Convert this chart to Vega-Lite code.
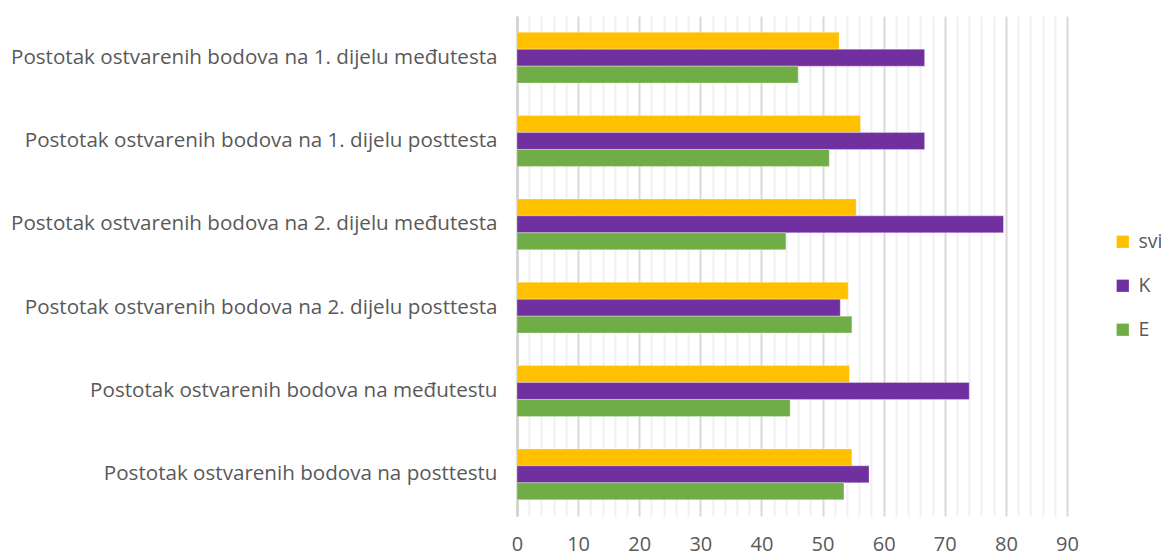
{
  "$schema": "https://vega.github.io/schema/vega-lite/v6.json",
  "width": 550,
  "height": 500,
  "autosize": {"type": "none"},
  "padding": {"left": 517, "top": 16, "right": 94, "bottom": 39},
  "background": "white",
  "data": {
    "values": [
      {"kat": "Postotak ostvarenih bodova na 1. dijelu međutesta", "grupa": "svi", "v": 52.7},
      {"kat": "Postotak ostvarenih bodova na 1. dijelu međutesta", "grupa": "K", "v": 66.7},
      {"kat": "Postotak ostvarenih bodova na 1. dijelu međutesta", "grupa": "E", "v": 46.0},
      {"kat": "Postotak ostvarenih bodova na 1. dijelu posttesta", "grupa": "svi", "v": 56.2},
      {"kat": "Postotak ostvarenih bodova na 1. dijelu posttesta", "grupa": "K", "v": 66.7},
      {"kat": "Postotak ostvarenih bodova na 1. dijelu posttesta", "grupa": "E", "v": 51.1},
      {"kat": "Postotak ostvarenih bodova na 2. dijelu međutesta", "grupa": "svi", "v": 55.5},
      {"kat": "Postotak ostvarenih bodova na 2. dijelu međutesta", "grupa": "K", "v": 79.6},
      {"kat": "Postotak ostvarenih bodova na 2. dijelu međutesta", "grupa": "E", "v": 44.0},
      {"kat": "Postotak ostvarenih bodova na 2. dijelu posttesta", "grupa": "svi", "v": 54.2},
      {"kat": "Postotak ostvarenih bodova na 2. dijelu posttesta", "grupa": "K", "v": 52.9},
      {"kat": "Postotak ostvarenih bodova na 2. dijelu posttesta", "grupa": "E", "v": 54.8},
      {"kat": "Postotak ostvarenih bodova na međutestu", "grupa": "svi", "v": 54.4},
      {"kat": "Postotak ostvarenih bodova na međutestu", "grupa": "K", "v": 74.0},
      {"kat": "Postotak ostvarenih bodova na međutestu", "grupa": "E", "v": 44.7},
      {"kat": "Postotak ostvarenih bodova na posttestu", "grupa": "svi", "v": 54.8},
      {"kat": "Postotak ostvarenih bodova na posttestu", "grupa": "K", "v": 57.6},
      {"kat": "Postotak ostvarenih bodova na posttestu", "grupa": "E", "v": 53.5}
    ]
  },
  "mark": {"type": "bar", "stroke": "white", "strokeWidth": 0.5, "strokeOpacity": 0.6},
  "encoding": {
    "y": {
      "field": "kat",
      "type": "nominal",
      "sort": null,
      "scale": {"paddingInner": 0.39, "paddingOuter": 0.195},
      "axis": {
        "title": null,
        "ticks": false,
        "labelLimit": 0,
        "labelPadding": 20,
        "labelFont": "Open Sans",
        "labelFontSize": 20.6,
        "labelColor": "#595959",
        "domain": true,
        "domainColor": "#d0d0d0",
        "domainWidth": 2.5,
        "grid": false
      }
    },
    "yOffset": {"field": "grupa", "type": "nominal", "sort": ["svi", "K", "E"], "scale": {"paddingInner": 0, "paddingOuter": 0}},
    "x": {
      "field": "v",
      "type": "quantitative",
      "scale": {"domain": [0, 90], "nice": false},
      "axis": {
        "title": null,
        "values": [0,2,4,6,8,10,12,14,16,18,20,22,24,26,28,30,32,34,36,38,40,42,44,46,48,50,52,54,56,58,60,62,64,66,68,70,72,74,76,78,80,82,84,86,88,90],
        "labelExpr": "datum.value % 10 === 0 ? datum.label : ''",
        "ticks": false,
        "domain": false,
        "grid": true,
        "gridColor": {"condition": {"test": "datum.value % 10 === 0", "value": "#d9d9d9"}, "value": "#f0f0f0"},
        "gridWidth": 2,
        "labelFont": "Open Sans",
        "labelFontSize": 20,
        "labelColor": "#595959",
        "labelPadding": 18,
        "labelFlush": false
      }
    },
    "color": {
      "field": "grupa",
      "type": "nominal",
      "sort": ["svi", "K", "E"],
      "scale": {"domain": ["svi", "K", "E"], "range": ["#FFC000", "#7030A0", "#70AD47"]},
      "legend": {
        "title": null,
        "orient": "none",
        "legendX": 596,
        "legendY": 216,
        "symbolType": "square",
        "symbolSize": 150,
        "symbolStrokeWidth": 0,
        "labelFont": "Open Sans",
        "labelFontSize": 19.5,
        "labelColor": "#595959",
        "rowPadding": 23,
        "labelOffset": 6
      }
    }
  },
  "config": {"view": {"stroke": null}}
}
